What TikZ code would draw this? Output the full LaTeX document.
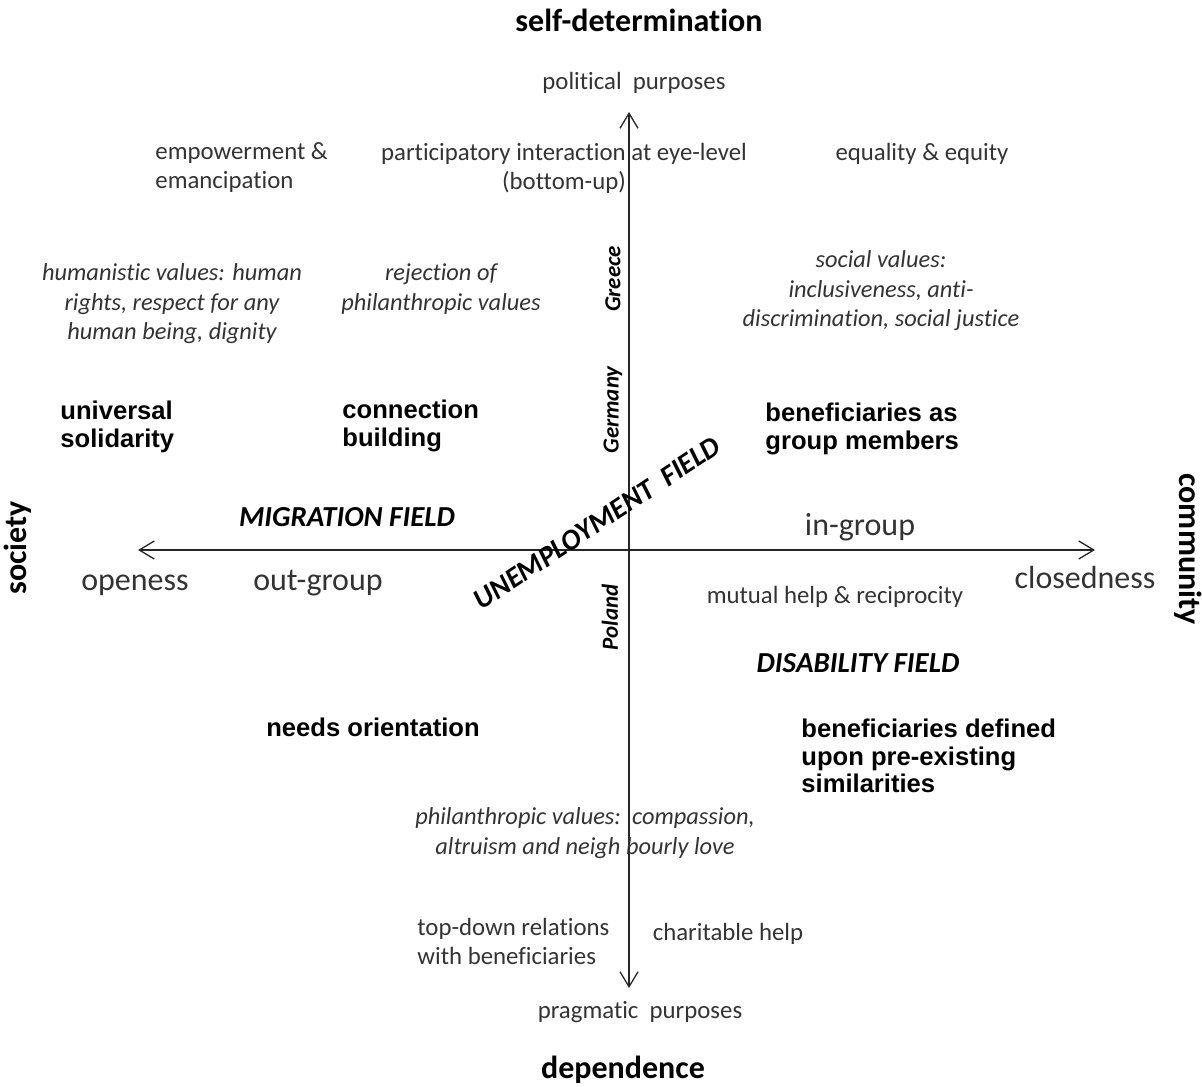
\documentclass[tikz,border=0pt]{standalone}
\usepackage{fontspec}
\setmainfont{Carlito}[Ligatures=NoCommon]
\newfontfamily\arialfont{Liberation Sans}
\usetikzlibrary{arrows.meta}
\definecolor{inkgray}{HTML}{333333}

\begin{document}
\begin{tikzpicture}[x=0.5pt, y=-0.5pt,
	every node/.style={inner sep=0pt, text=inkgray, font=\fontsize{12.4}{14.5}\selectfont},
	ital/.style={align=center, font=\fontsize{12.2}{14.7}\selectfont\itshape},
	pole/.style={anchor=base, font=\fontsize{16}{19}\selectfont},
	head/.style={text=black, font=\fontsize{16}{19}\selectfont\bfseries},
	keyword/.style={text=black, align=left, anchor=west, font=\fontsize{12.8}{13.8}\selectfont\arialfont\bfseries},
	field/.style={text=black, font=\fontsize{14.5}{17}\selectfont\bfseries\itshape},
	country/.style={text=black, rotate=90, font=\fontsize{11.5}{13}\selectfont\bfseries\itshape},
	axis/.style={line width=0.65pt, black!85, {Straight Barb[length=7.5pt,width=9pt]}-{Straight Barb[length=7.5pt,width=9pt]}}]
	\useasboundingbox (0,0) rectangle (1202,1086);
	\coordinate (ytop) at (629,112); \coordinate (ybot) at (629,988);
	\coordinate (xleft) at (138,550); \coordinate (xright) at (1095,550);
	\draw[axis] (ybot) -- (ytop);
	\draw[axis] (xleft) -- (xright);
	\node[head] (selfdet) at (639,20) {self-determination};
	\node[head] (depend) at (623,1070) {dependence};
	\node[head, rotate=90] (society) at (18,548) {society};
	\node[head, rotate=-90] (community) at (1188,549) {community};
	\node (political) at (634,83) {political\ \ purposes};
	\node (pragmatic) at (640,1012) {pragmatic\ \ purposes};
	\node[align=left, anchor=west] (empower) at (155,168) {empowerment \&\\emancipation};
	\node[align=center] (particip) at (564,168) {participatory interaction at eye-level\\(bottom-up)};
	\node (equality) at (922,154) {equality \& equity};
	\node[ital] (humanist) at (172,304) {humanistic values: human\\rights, respect for any\\human being, dignity};
	\node[ital] (rejection) at (441,289) {rejection of\\philanthropic values};
	\node[ital] (socialval) at (881,291) {social values:\\inclusiveness, anti-\\discrimination, social justice};
	\node[keyword] (universal) at (60,427) {universal\\solidarity};
	\node[keyword] (connect) at (342,426) {connection\\building};
	\node[keyword] (members) at (765,429) {beneficiaries as\\group members};
	\node[field] (migration) at (347,517) {MIGRATION FIELD};
	\node[field, rotate=33.5] (unemploy) at (597,523) {UNEMPLOYMENT\ \ FIELD};
	\node[field] (disability) at (858,663) {DISABILITY FIELD};
	\node[country] (greece) at (613,279) {Greece};
	\node[country] (germany) at (613,410) {Germany};
	\node[country] (poland) at (610,617) {Poland};
	\node[pole] (openess) at (135,590) {openess};
	\node[pole] (outgroup) at (318,590) {out-group};
	\node[pole] (ingroup) at (860,535) {in-group};
	\node[pole] (closed) at (1085,588) {closedness};
	\node (mutual) at (835,597) {mutual help \& reciprocity};
	\node[keyword] (defined) at (801,756) {beneficiaries defined\\upon pre-existing\\similarities};
	\node[keyword, anchor=center] (needs) at (373,727) {needs orientation};
	\node[ital] (philanth) at (585,833) {philanthropic values:\ \ compassion,\\altruism and neigh bourly love};
	\node[align=left, anchor=west] (topdown) at (417,941) {top-down relations\\with beneficiaries};
	\node (charity) at (728,934) {charitable help};
\end{tikzpicture}
\end{document}
